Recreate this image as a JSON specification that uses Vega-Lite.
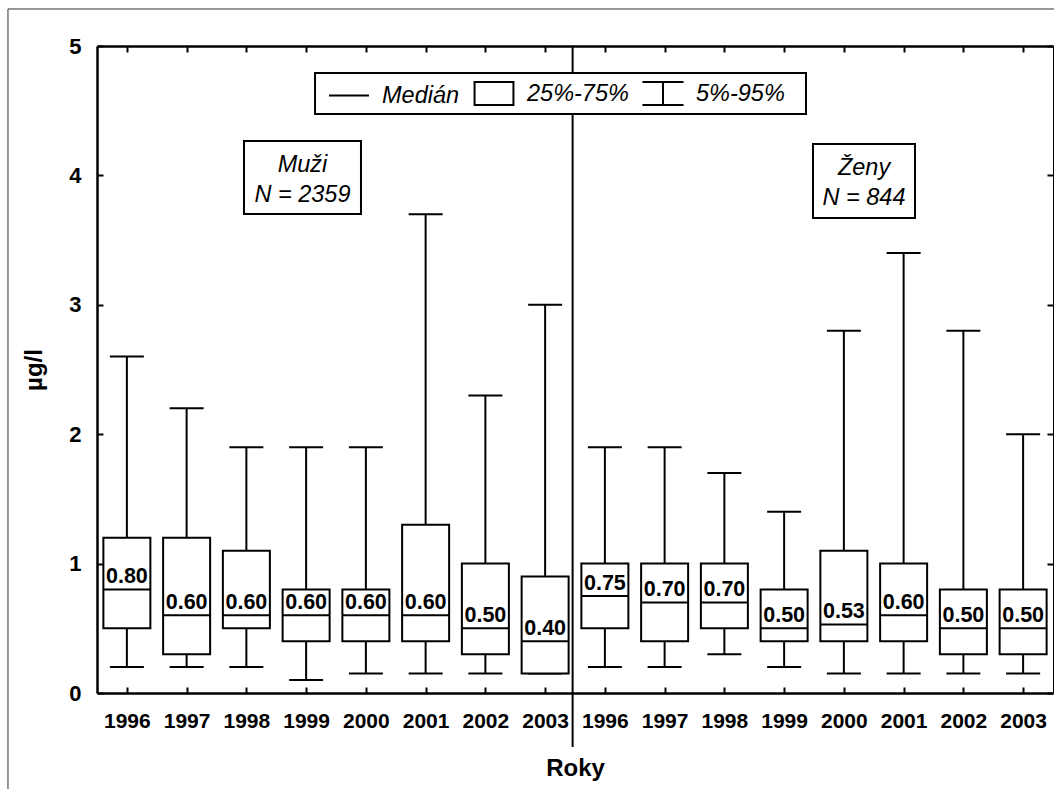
{
  "$schema": "https://vega.github.io/schema/vega-lite/v6.json",
  "autosize": {"type": "none"},
  "padding": {"left": 97, "top": 46, "right": 1, "bottom": 96},
  "width": 956,
  "height": 647,
  "background": "white",
  "datasets": {
    "stats": [
      {"pos": 1, "group": "Muži", "year": 1996, "p5": 0.2, "q1": 0.5, "median": 0.8, "q3": 1.2, "p95": 2.6},
      {"pos": 2, "group": "Muži", "year": 1997, "p5": 0.2, "q1": 0.3, "median": 0.6, "q3": 1.2, "p95": 2.2},
      {"pos": 3, "group": "Muži", "year": 1998, "p5": 0.2, "q1": 0.5, "median": 0.6, "q3": 1.1, "p95": 1.9},
      {"pos": 4, "group": "Muži", "year": 1999, "p5": 0.1, "q1": 0.4, "median": 0.6, "q3": 0.8, "p95": 1.9},
      {"pos": 5, "group": "Muži", "year": 2000, "p5": 0.15, "q1": 0.4, "median": 0.6, "q3": 0.8, "p95": 1.9},
      {"pos": 6, "group": "Muži", "year": 2001, "p5": 0.15, "q1": 0.4, "median": 0.6, "q3": 1.3, "p95": 3.7},
      {"pos": 7, "group": "Muži", "year": 2002, "p5": 0.15, "q1": 0.3, "median": 0.5, "q3": 1.0, "p95": 2.3},
      {"pos": 8, "group": "Muži", "year": 2003, "p5": 0.15, "q1": 0.15, "median": 0.4, "q3": 0.9, "p95": 3.0},
      {"pos": 9, "group": "Ženy", "year": 1996, "p5": 0.2, "q1": 0.5, "median": 0.75, "q3": 1.0, "p95": 1.9},
      {"pos": 10, "group": "Ženy", "year": 1997, "p5": 0.2, "q1": 0.4, "median": 0.7, "q3": 1.0, "p95": 1.9},
      {"pos": 11, "group": "Ženy", "year": 1998, "p5": 0.3, "q1": 0.5, "median": 0.7, "q3": 1.0, "p95": 1.7},
      {"pos": 12, "group": "Ženy", "year": 1999, "p5": 0.2, "q1": 0.4, "median": 0.5, "q3": 0.8, "p95": 1.4},
      {"pos": 13, "group": "Ženy", "year": 2000, "p5": 0.15, "q1": 0.4, "median": 0.53, "q3": 1.1, "p95": 2.8},
      {"pos": 14, "group": "Ženy", "year": 2001, "p5": 0.15, "q1": 0.4, "median": 0.6, "q3": 1.0, "p95": 3.4},
      {"pos": 15, "group": "Ženy", "year": 2002, "p5": 0.15, "q1": 0.3, "median": 0.5, "q3": 0.8, "p95": 2.8},
      {"pos": 16, "group": "Ženy", "year": 2003, "p5": 0.15, "q1": 0.3, "median": 0.5, "q3": 0.8, "p95": 2.0}
    ],
    "legendItems": [
      {"part": "Medián"},
      {"part": "25%-75%"},
      {"part": "5%-95%"}
    ]
  },
  "config": {
    "font": "Liberation Sans",
    "view": {"stroke": null},
    "scale": {"continuousPadding": 0},
    "axis": {
      "grid": false,
      "domainColor": "black",
      "tickColor": "black",
      "labelColor": "black",
      "titleColor": "black"
    }
  },
  "resolve": {"axis": {"x": "independent", "y": "independent"}},
  "layer": [
    {
      "data": {"values": [{}]},
      "mark": {"type": "rule", "stroke": "#333333", "strokeWidth": 1},
      "encoding": {
        "x": {"datum": -0.99, "type": "quantitative", "scale": {"domain": [0.5, 16.5], "nice": false, "zero": false, "padding": 0}, "axis": null},
        "y": {"datum": 5.286, "type": "quantitative", "scale": {"domain": [0, 5], "nice": false, "padding": 0}, "axis": null},
        "y2": {"datum": -1}
      }
    },
    {
      "data": {"values": [{}]},
      "mark": {"type": "rule", "stroke": "#333333", "strokeWidth": 1},
      "encoding": {
        "x": {"datum": -0.99, "type": "quantitative", "scale": {"domain": [0.5, 16.5], "nice": false, "zero": false, "padding": 0}, "axis": null},
        "x2": {"datum": 17.5},
        "y": {"datum": 5.286, "type": "quantitative", "scale": {"domain": [0, 5], "nice": false, "padding": 0}, "axis": null}
      }
    },
    {
      "data": {"name": "stats"},
      "mark": {"type": "rule", "stroke": "black", "strokeWidth": 2},
      "encoding": {
        "x": {
          "field": "pos", "type": "quantitative",
          "scale": {"domain": [0.5, 16.5], "nice": false, "zero": false, "padding": 0},
          "axis": {
            "orient": "bottom",
            "values": [1, 2, 3, 4, 5, 6, 7, 8, 9, 10, 11, 12, 13, 14, 15, 16],
            "labelExpr": "datum.value <= 8 ? '' + (datum.value + 1995) : '' + (datum.value + 1987)",
            "labelFontSize": 21,
            "labelFontWeight": "bold",
            "labelPadding": 23,
            "labelFlush": false,
            "labelOverlap": false,
            "labelAngle": 0,
            "tickSize": -6,
            "tickWidth": 2,
            "domainWidth": 2.5,
            "title": "Roky",
            "titleFontSize": 24,
            "titleFontWeight": "bold",
            "titlePadding": 25
          }
        },
        "y": {
          "field": "p5", "type": "quantitative",
          "scale": {"domain": [0, 5], "nice": false, "padding": 0},
          "axis": {
            "orient": "left",
            "values": [0, 1, 2, 3, 4, 5],
            "format": "d",
            "labelFontSize": 22,
            "labelFontWeight": "bold",
            "labelPadding": 22,
            "tickSize": -6,
            "tickWidth": 2,
            "domainWidth": 2.5,
            "title": "µg/l",
            "titleFontSize": 24,
            "titleFontWeight": "bold",
            "titlePadding": 22
          }
        },
        "y2": {"field": "p95"}
      }
    },
    {
      "data": {"name": "stats"},
      "mark": {"type": "tick", "orient": "horizontal", "color": "black", "size": 34, "thickness": 2, "opacity": 1},
      "encoding": {
        "x": {"field": "pos", "type": "quantitative", "scale": {"domain": [0.5, 16.5], "nice": false, "zero": false, "padding": 0}, "axis": null},
        "y": {"field": "p5", "type": "quantitative", "scale": {"domain": [0, 5], "nice": false, "padding": 0}, "axis": null}
      }
    },
    {
      "data": {"name": "stats"},
      "mark": {"type": "tick", "orient": "horizontal", "color": "black", "size": 34, "thickness": 2, "opacity": 1},
      "encoding": {
        "x": {
          "field": "pos", "type": "quantitative",
          "scale": {"domain": [0.5, 16.5], "nice": false, "zero": false, "padding": 0},
          "axis": {
            "orient": "top",
            "values": [1, 2, 3, 4, 5, 6, 7, 8, 9, 10, 11, 12, 13, 14, 15, 16],
            "labels": false,
            "tickSize": -6,
            "tickWidth": 2,
            "domainWidth": 2.5,
            "title": null
          }
        },
        "y": {
          "field": "p95", "type": "quantitative",
          "scale": {"domain": [0, 5], "nice": false, "padding": 0},
          "axis": {
            "orient": "right",
            "values": [0, 1, 2, 3, 4, 5],
            "labels": false,
            "tickSize": -6,
            "tickWidth": 2,
            "domainWidth": 1,
            "title": null
          }
        }
      }
    },
    {
      "data": {"name": "stats"},
      "mark": {"type": "bar", "orient": "vertical", "size": 47, "fill": "white", "stroke": "black", "strokeWidth": 2, "opacity": 1},
      "encoding": {
        "x": {"field": "pos", "type": "quantitative", "scale": {"domain": [0.5, 16.5], "nice": false, "zero": false, "padding": 0}, "axis": null},
        "y": {"field": "q1", "type": "quantitative", "scale": {"domain": [0, 5], "nice": false, "padding": 0}, "axis": null},
        "y2": {"field": "q3"}
      }
    },
    {
      "data": {"name": "stats"},
      "mark": {"type": "tick", "orient": "horizontal", "color": "black", "size": 47, "thickness": 2, "opacity": 1},
      "encoding": {
        "x": {"field": "pos", "type": "quantitative", "scale": {"domain": [0.5, 16.5], "nice": false, "zero": false, "padding": 0}, "axis": null},
        "y": {"field": "median", "type": "quantitative", "scale": {"domain": [0, 5], "nice": false, "padding": 0}, "axis": null}
      }
    },
    {
      "data": {"name": "stats"},
      "mark": {"type": "text", "align": "center", "baseline": "alphabetic", "dy": -6, "fontSize": 21.5, "fontWeight": "bold", "color": "black"},
      "encoding": {
        "x": {"field": "pos", "type": "quantitative", "scale": {"domain": [0.5, 16.5], "nice": false, "zero": false, "padding": 0}, "axis": null},
        "y": {"field": "median", "type": "quantitative", "scale": {"domain": [0, 5], "nice": false, "padding": 0}, "axis": null},
        "text": {"field": "median", "type": "quantitative", "format": ".2f"}
      }
    },
    {
      "data": {"values": [{}]},
      "mark": {"type": "rule", "stroke": "black", "strokeWidth": 2},
      "encoding": {
        "x": {"datum": 8.46, "type": "quantitative", "scale": {"domain": [0.5, 16.5], "nice": false, "zero": false, "padding": 0}, "axis": null},
        "y": {"datum": 5, "type": "quantitative", "scale": {"domain": [0, 5], "nice": false, "padding": 0}, "axis": null},
        "y2": {"datum": -0.417}
      }
    },
    {
      "data": {"values": [{}]},
      "mark": {"type": "rect", "fill": "white", "stroke": "black", "strokeWidth": 2},
      "encoding": {
        "x": {"datum": 4.149, "type": "quantitative", "scale": {"domain": [0.5, 16.5], "nice": false, "zero": false, "padding": 0}, "axis": null},
        "x2": {"datum": 12.366},
        "y": {"datum": 4.791, "type": "quantitative", "scale": {"domain": [0, 5], "nice": false, "padding": 0}, "axis": null},
        "y2": {"datum": 4.474}
      }
    },
    {
      "data": {"values": [{}]},
      "mark": {"type": "rect", "fill": "white", "stroke": "black", "strokeWidth": 2},
      "encoding": {
        "x": {"datum": 2.96, "type": "quantitative", "scale": {"domain": [0.5, 16.5], "nice": false, "zero": false, "padding": 0}, "axis": null},
        "x2": {"datum": 4.918},
        "y": {"datum": 4.266, "type": "quantitative", "scale": {"domain": [0, 5], "nice": false, "padding": 0}, "axis": null},
        "y2": {"datum": 3.702}
      }
    },
    {
      "data": {"values": [{}]},
      "mark": {"type": "text", "text": ["Muži", "N = 2359"], "align": "center", "baseline": "alphabetic", "lineHeight": 30, "fontSize": 23.5, "fontStyle": "italic", "color": "black"},
      "encoding": {
        "x": {"datum": 3.939, "type": "quantitative", "scale": {"domain": [0.5, 16.5], "nice": false, "zero": false, "padding": 0}, "axis": null},
        "y": {"datum": 4.026, "type": "quantitative", "scale": {"domain": [0, 5], "nice": false, "padding": 0}, "axis": null}
      }
    },
    {
      "data": {"values": [{}]},
      "mark": {"type": "rect", "fill": "white", "stroke": "black", "strokeWidth": 2},
      "encoding": {
        "x": {"datum": 12.483, "type": "quantitative", "scale": {"domain": [0.5, 16.5], "nice": false, "zero": false, "padding": 0}, "axis": null},
        "x2": {"datum": 14.19},
        "y": {"datum": 4.243, "type": "quantitative", "scale": {"domain": [0, 5], "nice": false, "padding": 0}, "axis": null},
        "y2": {"datum": 3.671}
      }
    },
    {
      "data": {"values": [{}]},
      "mark": {"type": "text", "text": ["Ženy", "N = 844"], "align": "center", "baseline": "alphabetic", "lineHeight": 30, "fontSize": 23.5, "fontStyle": "italic", "color": "black"},
      "encoding": {
        "x": {"datum": 13.337, "type": "quantitative", "scale": {"domain": [0.5, 16.5], "nice": false, "zero": false, "padding": 0}, "axis": null},
        "y": {"datum": 4.003, "type": "quantitative", "scale": {"domain": [0, 5], "nice": false, "padding": 0}, "axis": null}
      }
    },
    {
      "data": {"name": "legendItems"},
      "mark": {"type": "point", "opacity": 0, "stroke": "black", "strokeWidth": 2, "filled": false},
      "encoding": {
        "shape": {
          "field": "part", "type": "nominal",
          "scale": {
            "domain": ["Medián", "25%-75%", "5%-95%"],
            "range": [
              "M-1.48,0H1.48",
              "M-1.44,-0.85H1.44V0.85H-1.44Z",
              "M-1.52,-0.85H1.52M0,-0.85V0.85M-1.52,0.85H1.52"
            ]
          },
          "legend": {
            "orient": "none",
            "legendX": 218,
            "legendY": 27,
            "direction": "horizontal",
            "title": null,
            "padding": 6,
            "symbolSize": 729,
            "symbolOffset": 13.5,
            "symbolOpacity": 1,
            "symbolStrokeColor": "black",
            "symbolStrokeWidth": 2,
            "symbolFillColor": "white",
            "labelFontSize": 23.5,
            "labelFontStyle": "italic",
            "labelColor": "black",
            "labelOffset": 18.5,
            "columnPadding": 6,
            "encode": {
              "symbols": {"update": {"opacity": {"value": 1}, "stroke": {"value": "black"}, "fill": {"value": "white"}}}
            }
          }
        }
      }
    }
  ]
}
